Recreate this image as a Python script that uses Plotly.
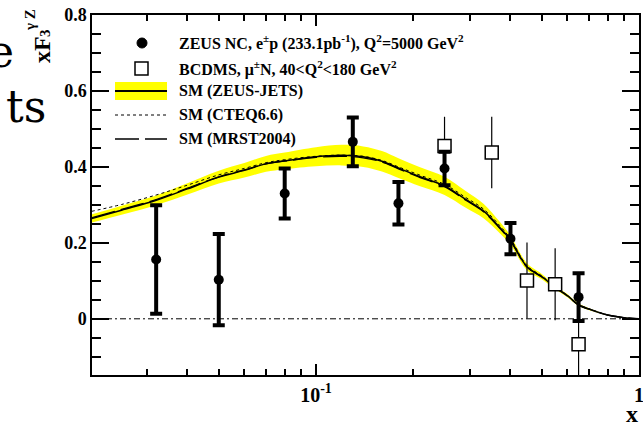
import plotly.graph_objects as go

# ---------------- data ----------------
zeus_x = [0.032, 0.05, 0.08, 0.13, 0.18, 0.25, 0.40, 0.65]
zeus_y = [0.156, 0.103, 0.330, 0.466, 0.304, 0.396, 0.211, 0.057]
zeus_err = [0.143, 0.120, 0.066, 0.064, 0.056, 0.044, 0.041, 0.063]

bcdms_x = [0.25, 0.35, 0.45, 0.55, 0.65]
bcdms_y = [0.455, 0.438, 0.101, 0.091, -0.067]
bcdms_err = [0.077, 0.094, 0.100, 0.095, 0.090]

curve_x = [0.0202, 0.025, 0.032, 0.04, 0.05, 0.06, 0.07, 0.08, 0.10, 0.12, 0.14,
           0.16, 0.18, 0.21, 0.25, 0.29, 0.33, 0.37, 0.40, 0.45, 0.50, 0.55,
           0.60, 0.65, 0.72, 0.80, 0.90, 1.0]
zeusjets_y = [0.264, 0.286, 0.312, 0.342, 0.373, 0.391, 0.408, 0.416, 0.427, 0.431, 0.427,
              0.415, 0.397, 0.374, 0.350, 0.315, 0.284, 0.241, 0.207, 0.137, 0.111, 0.083,
              0.061, 0.037, 0.022, 0.010, 0.003, 0.0]
zeusjets_err = [0.011, 0.012, 0.013, 0.015, 0.017, 0.019, 0.021, 0.022, 0.025, 0.027, 0.027,
                0.027, 0.026, 0.025, 0.024, 0.022, 0.019, 0.015, 0.012, 0.009, 0.007, 0.005,
                0.004, 0.003, 0.002, 0.001, 0.0005, 0.0]
cteq_y = [0.283, 0.301, 0.326, 0.352, 0.379, 0.396, 0.411, 0.419, 0.428, 0.431, 0.428,
          0.417, 0.400, 0.378, 0.354, 0.320, 0.289, 0.246, 0.211, 0.140, 0.113, 0.085,
          0.062, 0.038, 0.023, 0.010, 0.003, 0.0]
mrst_y = [0.266, 0.288, 0.314, 0.344, 0.374, 0.392, 0.408, 0.415, 0.425, 0.428, 0.424,
          0.413, 0.395, 0.372, 0.348, 0.313, 0.282, 0.239, 0.205, 0.136, 0.110, 0.082,
          0.060, 0.036, 0.022, 0.010, 0.003, 0.0]

y_tickvals = [0, 0.2, 0.4, 0.6, 0.8]
y_ticktext = ["0", "0.2", "0.4", "0.6", "0.8"]
y_minor = [-0.1, -0.05, 0.05, 0.1, 0.15, 0.25, 0.3, 0.35, 0.45, 0.5, 0.55, 0.65, 0.7, 0.75]
x_tickvals = [0.1, 1.0]
x_ticktext = ["10<sup>-1</sup>", "1"]
x_minor = [0.03, 0.04, 0.05, 0.06, 0.07, 0.08, 0.09, 0.2, 0.3, 0.4, 0.5, 0.6, 0.7, 0.8, 0.9]

legend_labels = [
    "ZEUS NC, e<sup>±</sup>p (233.1pb<sup>-1</sup>), Q<sup>2</sup>=5000 GeV<sup>2</sup>",
    "BCDMS, μ<sup>±</sup>N, 40&lt;Q<sup>2</sup>&lt;180 GeV<sup>2</sup>",
    "SM (ZEUS-JETS)",
    "SM (CTEQ6.6)",
    "SM (MRST2004)",
]

SERIF = "Liberation Serif, Times New Roman, serif"
WIDE_SERIF = "DejaVu Serif, serif"

# ---------------- figure ----------------
fig = go.Figure()

band_hi = [y + e for y, e in zip(zeusjets_y, zeusjets_err)]
band_lo = [y - e for y, e in zip(zeusjets_y, zeusjets_err)]

fig.add_trace(go.Scatter(x=curve_x, y=band_lo, mode="lines", line=dict(width=0, shape="spline"),
                         showlegend=False, hoverinfo="skip"))
fig.add_trace(go.Scatter(x=curve_x, y=band_hi, mode="lines", line=dict(width=0, shape="spline"),
                         fill="tonexty", fillcolor="#ffff00", showlegend=False, hoverinfo="skip"))

fig.add_trace(go.Scatter(x=curve_x, y=cteq_y, mode="lines",
                         line=dict(color="black", width=1, dash="dot", shape="spline"),
                         name="SM (CTEQ6.6)", showlegend=False))
fig.add_trace(go.Scatter(x=curve_x, y=mrst_y, mode="lines",
                         line=dict(color="black", width=1.3, dash="24px,6px", shape="spline"),
                         name="SM (MRST2004)", showlegend=False))
fig.add_trace(go.Scatter(x=curve_x, y=zeusjets_y, mode="lines",
                         line=dict(color="black", width=1.5, shape="spline"),
                         name="SM (ZEUS-JETS)", showlegend=False))

fig.add_trace(go.Scatter(x=bcdms_x, y=bcdms_y, mode="markers",
                         marker=dict(symbol="square", size=13, color="white",
                                     line=dict(color="black", width=1.5)),
                         error_y=dict(type="data", array=bcdms_err, color="black",
                                      thickness=1.2, width=0),
                         showlegend=False))
fig.add_trace(go.Scatter(x=zeus_x, y=zeus_y, mode="markers",
                         marker=dict(symbol="circle", size=10, color="black"),
                         error_y=dict(type="data", array=zeus_err, color="black",
                                      thickness=4, width=6),
                         showlegend=False))

# ---------------- layout ----------------
L, R, T, B = 92, 4, 15, 49
W, H = 643, 424
PW, PH = W - L - R, H - T - B


def pxx(x):
    return (x - L) / PW


def pxy(y):
    return (H - B - y) / PH


fig.update_layout(
    width=W, height=H,
    margin=dict(l=L, r=R, t=T, b=B, autoexpand=False),
    plot_bgcolor="white", paper_bgcolor="white",
    showlegend=False,
    font=dict(family=SERIF, color="black"),
)

fig.update_xaxes(
    type="log", range=[-1.6935, 0], automargin=False,
    showline=True, linecolor="black", linewidth=1.5, mirror="allticks",
    ticks="inside", ticklen=11, tickwidth=1.5, tickcolor="black",
    tickvals=x_tickvals, ticktext=x_ticktext,
    tickfont=dict(family=SERIF, size=20, color="black", weight="bold"),
    ticklabelstandoff=1, ticklabeloverflow="allow",
    minor=dict(tickvals=x_minor, ticks="inside", ticklen=6, tickwidth=1.5, tickcolor="black"),
    showgrid=False, zeroline=False,
)
fig.update_yaxes(
    range=[-0.148, 0.8], automargin=False,
    showline=True, linecolor="black", linewidth=1.5, mirror="allticks",
    ticks="inside", ticklen=17, tickwidth=1.5, tickcolor="black",
    tickvals=y_tickvals, ticktext=y_ticktext,
    tickfont=dict(family=SERIF, size=18, color="black", weight="bold"),
    ticklabeloverflow="allow",
    minor=dict(tickvals=y_minor, ticks="inside", ticklen=9, tickwidth=1.5, tickcolor="black"),
    showgrid=False, zeroline=False,
)

# zero reference line
fig.add_hline(y=0, line=dict(color="black", width=1, dash="6px,3px,2px,3px"), layer="below")

# legend symbols
fig.add_shape(type="circle", xref="paper", yref="paper",
              x0=pxx(137), x1=pxx(147), y0=pxy(48), y1=pxy(38),
              fillcolor="black", line=dict(color="black", width=1))
fig.add_shape(type="rect", xref="paper", yref="paper",
              x0=pxx(135), x1=pxx(148), y0=pxy(75), y1=pxy(62),
              fillcolor="white", line=dict(color="black", width=1.5))
fig.add_shape(type="rect", xref="paper", yref="paper",
              x0=pxx(115), x1=pxx(167), y0=pxy(100), y1=pxy(82),
              fillcolor="#ffff00", line=dict(width=0))
fig.add_shape(type="line", xref="paper", yref="paper",
              x0=pxx(115), x1=pxx(167), y0=pxy(91), y1=pxy(91),
              line=dict(color="black", width=2))
fig.add_shape(type="line", xref="paper", yref="paper",
              x0=pxx(115), x1=pxx(167), y0=pxy(115), y1=pxy(115),
              line=dict(color="black", width=1, dash="dot"))
fig.add_shape(type="line", xref="paper", yref="paper",
              x0=pxx(115), x1=pxx(167), y0=pxy(139), y1=pxy(139),
              line=dict(color="black", width=1.5, dash="24px,6px"))

row_y = [43, 68, 91, 115, 139]
for lbl, ry in zip(legend_labels, row_y):
    fig.add_annotation(text=lbl, xref="paper", yref="paper", x=pxx(177), y=pxy(ry),
                       xanchor="left", yanchor="middle", showarrow=False,
                       font=dict(family=SERIF, size=16, color="black", weight="bold"))

# axis titles
fig.add_annotation(text="xF", xref="paper", yref="paper", x=pxx(42), y=pxy(50),
                   xanchor="center", yanchor="middle", textangle=-90, showarrow=False,
                   font=dict(family=SERIF, size=24, color="black", weight="bold"))
fig.add_annotation(text="3", xref="paper", yref="paper", x=pxx(45), y=pxy(33),
                   xanchor="center", yanchor="middle", textangle=-90, showarrow=False,
                   font=dict(family=SERIF, size=15, color="black", weight="bold"))
fig.add_annotation(text="γ Z", xref="paper", yref="paper", x=pxx(30), y=pxy(20),
                   xanchor="center", yanchor="middle", textangle=-90, showarrow=False,
                   font=dict(family=SERIF, size=15, color="black", weight="bold"))
fig.add_annotation(text="x", xref="paper", yref="paper", x=pxx(632), y=pxy(414),
                   xanchor="center", yanchor="middle", showarrow=False,
                   font=dict(family=SERIF, size=24, color="black", weight="bold"))

# slide text fragments at the left edge
fig.add_annotation(text="e", xref="paper", yref="paper", x=pxx(16), y=pxy(52),
                   xanchor="right", yanchor="middle", showarrow=False,
                   font=dict(family=WIDE_SERIF, size=44, color="black"))
fig.add_annotation(text="ts", xref="paper", yref="paper", x=pxx(48), y=pxy(106),
                   xanchor="right", yanchor="middle", showarrow=False,
                   font=dict(family=WIDE_SERIF, size=44, color="black"))

fig.write_html("out.html", config={"displayModeBar": False},
               post_script="document.body.style.margin='0px';")
